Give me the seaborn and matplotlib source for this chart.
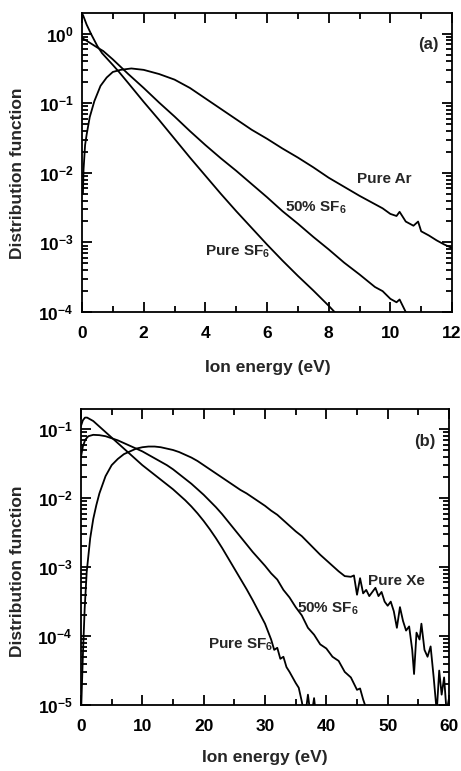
import numpy as np
import pandas as pd
import matplotlib
matplotlib.use("Agg")
import matplotlib.pyplot as plt
import seaborn as sns
from matplotlib.ticker import LogLocator, MultipleLocator, NullFormatter

# ---------------- data (stored as log10) -------------
# Panel (a): Ar / SF6
a_ar_x = [0.03, 0.05, 0.1, 0.15, 0.25, 0.4, 0.6, 0.8, 1.0, 1.25, 1.6, 2.0, 2.5, 3.0, 3.5,
          4.0, 4.5, 5.0, 5.5, 6.0, 6.5, 7.0, 7.5, 8.0, 8.5, 9.0, 9.25, 9.5, 9.75, 10.0,
          10.2, 10.3, 10.5, 10.75, 10.9, 11.0, 11.25, 11.5, 11.75, 12.0]
a_ar_log = [-2.3, -1.95, -1.6, -1.45, -1.2, -0.97, -0.75, -0.63, -0.55, -0.52, -0.50, -0.52,
            -0.58, -0.66, -0.78, -0.93, -1.08, -1.23, -1.38, -1.51, -1.65, -1.78, -1.92,
            -2.07, -2.20, -2.33, -2.39, -2.45, -2.51, -2.59, -2.62, -2.56, -2.70, -2.76,
            -2.70, -2.84, -2.90, -2.97, -3.03, -3.08]

a_mix_x = [0.03, 0.25, 0.5, 0.69, 1.0, 1.5, 2.0, 2.5, 3.0, 3.5, 4.0, 4.5, 5.0, 5.5, 6.0,
           6.5, 7.0, 7.5, 8.0, 8.5, 9.0, 9.5, 9.75, 10.0, 10.2, 10.3, 10.5, 10.6]
a_mix_log = [-0.07, -0.13, -0.20, -0.25, -0.37, -0.58, -0.78, -0.99, -1.19, -1.40, -1.60,
             -1.79, -1.97, -2.16, -2.35, -2.55, -2.73, -2.92, -3.10, -3.29, -3.46, -3.64,
             -3.70, -3.81, -3.86, -3.82, -4.0, -4.05]

a_sf6_x = [0.03, 0.15, 0.3, 0.5, 0.65, 1.0, 1.2, 1.5, 2.0, 2.5, 3.0, 3.5, 4.0, 4.5, 5.0,
           5.5, 6.0, 6.5, 7.0, 7.5, 8.0, 8.3]
a_sf6_log = [0.27, 0.13, -0.01, -0.18, -0.28, -0.45, -0.55, -0.71, -0.98, -1.24, -1.51,
             -1.78, -2.04, -2.30, -2.55, -2.79, -3.03, -3.26, -3.48, -3.69, -3.91, -4.05]

# Panel (b): Xe / SF6
b_xe_x = [0.05, 0.3, 0.6, 0.93, 1.5, 2.0, 2.5, 3, 4, 5, 6, 7, 8, 9, 10, 11, 12, 13, 14, 15,
          16, 17, 18, 19, 20, 21, 22, 23, 24, 25, 26, 27, 28, 29, 30, 31, 32, 33, 34, 35,
          36, 37, 38, 39, 40, 41, 42, 43, 44, 44.5, 45, 45.5, 46, 46.5, 47, 47.5, 48, 48.5,
          49, 49.5, 50, 50.5, 51, 51.5, 52, 52.5, 53, 53.5, 54, 54.3, 54.7, 55.2, 55.5, 56,
          56.5, 57, 57.5, 58, 58.4, 58.8, 59.2, 59.6, 60]
b_xe_log = [-5.0, -4.3, -3.6, -3.07, -2.58, -2.30, -2.10, -1.93, -1.68, -1.52, -1.43, -1.36,
            -1.32, -1.28, -1.26, -1.25, -1.25, -1.26, -1.28, -1.30, -1.33, -1.37, -1.41,
            -1.46, -1.52, -1.58, -1.64, -1.70, -1.76, -1.82, -1.88, -1.93, -1.99, -2.05,
            -2.11, -2.18, -2.24, -2.32, -2.40, -2.48, -2.55, -2.64, -2.73, -2.82, -2.90,
            -2.98, -3.06, -3.13, -3.14, -3.12, -3.40, -3.16, -3.38, -3.33, -3.42, -3.36,
            -3.30, -3.42, -3.36, -3.50, -3.56, -3.50, -3.64, -3.88, -3.58, -3.78, -3.92,
            -3.86, -4.20, -4.55, -3.95, -4.05, -3.82, -4.20, -4.30, -4.15, -4.60, -5.10,
            -4.50, -4.85, -4.60, -5.10, -4.90]

b_mix_x = [0, 0.3, 0.7, 1.2, 2, 3, 4, 5, 6, 7, 8, 9, 10, 11, 12, 13, 14, 15, 16, 17, 18, 19,
           20, 21, 22, 23, 24, 25, 26, 27, 28, 29, 30, 31, 32, 33, 34, 35, 36, 37, 38, 39,
           40, 41, 42, 43, 44, 45, 45.5, 46, 46.5, 47]
b_mix_log = [-1.40, -1.25, -1.15, -1.10, -1.08, -1.085, -1.10, -1.13, -1.16, -1.20, -1.24,
             -1.28, -1.32, -1.37, -1.42, -1.47, -1.52, -1.58, -1.65, -1.72, -1.79, -1.87,
             -1.95, -2.04, -2.13, -2.23, -2.34, -2.45, -2.56, -2.67, -2.78, -2.88, -2.98,
             -3.09, -3.18, -3.33, -3.44, -3.58, -3.70, -3.88, -3.98, -4.12, -4.18, -4.30,
             -4.36, -4.52, -4.60, -4.78, -4.76, -4.92, -5.05, -5.2]

b_sf6_x = [0, 0.3, 0.65, 1, 2, 3, 4, 5, 6, 7, 8, 9, 10, 11, 12, 13, 14, 15, 16, 17, 18, 19,
           20, 21, 22, 23, 24, 25, 26, 27, 28, 29, 30, 31, 31.5, 32, 32.5, 33, 33.5, 34,
           34.5, 35, 35.5, 36, 36.5, 37, 37.5, 38, 38.5]
b_sf6_log = [-0.95, -0.87, -0.83, -0.83, -0.88, -0.96, -1.04, -1.12, -1.20, -1.28, -1.36,
             -1.44, -1.52, -1.59, -1.66, -1.73, -1.80, -1.87, -1.95, -2.03, -2.12, -2.22,
             -2.33, -2.45, -2.58, -2.72, -2.87, -3.02, -3.17, -3.32, -3.48, -3.65, -3.82,
             -4.05, -4.20, -4.17, -4.33, -4.30, -4.45, -4.52, -4.60, -4.68, -4.75, -4.95,
             -5.20, -4.85, -5.20, -4.90, -5.30]

panel_a_labels = ["Pure Ar", "50% SF$_6$", "Pure SF$_6$"]
panel_b_labels = ["Pure Xe", "50% SF$_6$", "Pure SF$_6$"]

# ---------------- style ----------------
sns.set_style("ticks")
plt.rcParams["font.family"] = ["Liberation Sans", "DejaVu Sans"]
plt.rcParams["font.weight"] = "bold"
plt.rcParams["axes.labelweight"] = "bold"
plt.rcParams["mathtext.fontset"] = "custom"
plt.rcParams["mathtext.rm"] = "Liberation Sans:bold"
plt.rcParams["mathtext.it"] = "Liberation Sans:bold"
plt.rcParams["mathtext.bf"] = "Liberation Sans:bold"

fig = plt.figure(figsize=(4.61, 7.71), dpi=100)
ax_a = fig.add_axes([0.1779, 0.5953, 0.8026, 0.3878])
ax_b = fig.add_axes([0.1757, 0.0856, 0.7983, 0.3839])


def draw(ax, series, xlim, ylim, xmajor, xminor):
    for xs, ls in series:
        df = pd.DataFrame({"x": xs, "y": np.power(10.0, ls)})
        sns.lineplot(data=df, x="x", y="y", ax=ax, color="black", lw=1.3,
                     estimator=None, sort=False)
    ax.set_yscale("log")
    ax.set_xlim(*xlim)
    ax.set_ylim(*ylim)
    ax.xaxis.set_major_locator(MultipleLocator(xmajor))
    ax.xaxis.set_minor_locator(MultipleLocator(xminor))
    ax.yaxis.set_major_locator(LogLocator(base=10, numticks=20))
    ax.yaxis.set_minor_locator(LogLocator(base=10, subs=np.arange(2, 10), numticks=20))
    ax.yaxis.set_minor_formatter(NullFormatter())
    ax.tick_params(which="both", direction="in", top=True, right=True, width=1.3,
                   colors="black")
    ax.tick_params(which="major", length=7, labelsize=12.5)
    ax.tick_params(axis="x", which="major", pad=10)
    ax.tick_params(axis="y", which="major", pad=6)
    ax.tick_params(which="minor", length=4)
    for s in ax.spines.values():
        s.set_linewidth(1.3)
        s.set_color("black")
    ax.set_xlabel("Ion energy (eV)", fontsize=12.5)
    ax.set_ylabel("Distribution function", fontsize=12.5)


draw(ax_a, [(a_ar_x, a_ar_log), (a_mix_x, a_mix_log), (a_sf6_x, a_sf6_log)],
     (0, 12), (1e-4, 1.98), 2, 1)
draw(ax_b, [(b_xe_x, b_xe_log), (b_mix_x, b_mix_log), (b_sf6_x, b_sf6_log)],
     (0, 60), (1e-5, 0.197), 10, 5)

ax_a.xaxis.set_label_coords(0.503, -0.161)
ax_a.yaxis.set_label_coords(-0.154, 0.465)
ax_b.xaxis.set_label_coords(0.500, -0.152)
ax_b.yaxis.set_label_coords(-0.152, 0.453)

ax_a.text(0.935, 0.896, "(a)", transform=ax_a.transAxes, fontsize=12, ha="center",
          va="center")
ax_a.text(8.92, 10**-2.09, panel_a_labels[0], fontsize=11, ha="left", va="center")
ax_a.text(6.58, 10**-2.5, panel_a_labels[1], fontsize=11, ha="left", va="center")
ax_a.text(4.0, 10**-3.14, panel_a_labels[2], fontsize=11, ha="left", va="center")

ax_b.text(0.935, 0.89, "(b)", transform=ax_b.transAxes, fontsize=12, ha="center",
          va="center")
ax_b.text(46.8, 10**-3.2, panel_b_labels[0], fontsize=11, ha="left", va="center")
ax_b.text(35.2, 10**-3.61, panel_b_labels[1], fontsize=11, ha="left", va="center")
ax_b.text(20.7, 10**-4.12, panel_b_labels[2], fontsize=11, ha="left", va="center")

for ax in (ax_a, ax_b):
    leg = ax.get_legend()
    if leg is not None:
        leg.remove()

fig.savefig("out.png", dpi=100)
